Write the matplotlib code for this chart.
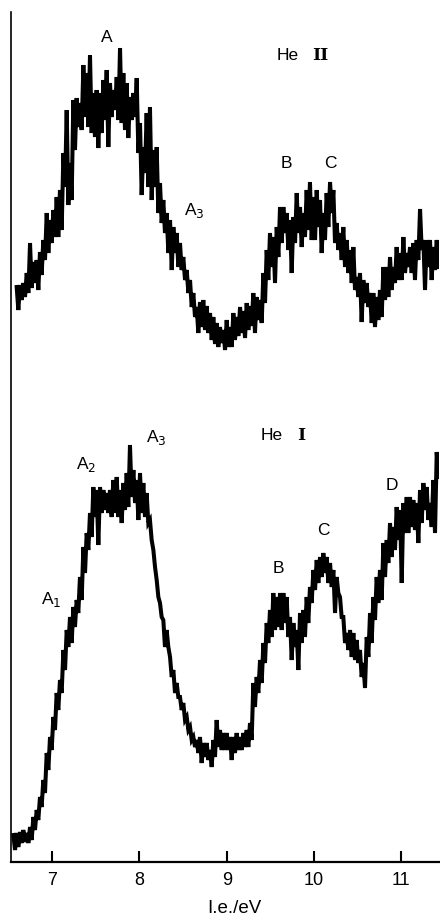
import numpy as np
import matplotlib
matplotlib.use("Agg")
import matplotlib.pyplot as plt

plt.rcParams['font.family'] = ['Liberation Sans', 'DejaVu Sans']

# ionisation energy (eV) at which the traces were read
ie = [6.555, 6.593, 6.631, 6.669, 6.708, 6.746, 6.784, 6.822, 6.860, 6.898, 6.937,
      6.975, 7.013, 7.051, 7.089, 7.128, 7.166, 7.204, 7.242, 7.280, 7.318,
      7.357, 7.395, 7.433, 7.471, 7.509, 7.548, 7.586, 7.624, 7.662, 7.700,
      7.739, 7.777, 7.815, 7.853, 7.891, 7.930, 7.968, 8.006, 8.044, 8.082,
      8.120, 8.159, 8.197, 8.235, 8.273, 8.311, 8.350, 8.388, 8.426, 8.464,
      8.502, 8.541, 8.579, 8.617, 8.655, 8.693, 8.731, 8.770, 8.808, 8.846,
      8.884, 8.922, 8.961, 8.999, 9.037, 9.075, 9.113, 9.152, 9.190, 9.228,
      9.266, 9.304, 9.342, 9.381, 9.419, 9.457, 9.495, 9.533, 9.572, 9.610,
      9.648, 9.686, 9.724, 9.763, 9.801, 9.839, 9.877, 9.915, 9.953, 9.992,
      10.030, 10.068, 10.106, 10.144, 10.183, 10.221, 10.259, 10.297, 10.335, 10.374,
      10.412, 10.450, 10.488, 10.526, 10.564, 10.603, 10.641, 10.679, 10.717, 10.755,
      10.794, 10.832, 10.870, 10.908, 10.946, 10.985, 11.023, 11.061, 11.099, 11.137,
      11.175, 11.214, 11.252, 11.290, 11.328, 11.366, 11.405]

# He II trace (upper), noise band top / bottom, arbitrary units
he2_hi = [np.nan,
          575, 577, 579, 589, 619, 600, 602, 610, 622, 649,
          642, 652, 665, 672, 709, 752, 699, 762, 764, 759,
          797, 789, 807, 769, 772, 769, 782, 792, 779, 772,
          785, 814, 789, 779, 765, 769, 784, 739, 715, 749,
          755, 712, 715, 679, 662, 649, 642, 635, 629, 619,
          605, 592, 582, 569, 555, 560, 562, 556, 549, 545,
          539, 535, 532, 542, 535, 549, 545, 555, 551, 559,
          556, 569, 565, 562, 589, 612, 629, 625, 635, 655,
          655, 649, 642, 645, 669, 655, 649, 672, 680, 665,
          672, 662, 649, 669, 680, 672, 639, 629, 635, 622,
          612, 615, 585, 589, 582, 579, 569, 569, 565, 572,
          595, 595, 605, 595, 615, 609, 625, 609, 615, 619,
          622, 653, 622, 622, 622, 615, 622]
he2_lo = [np.nan,
          552, 562, 565, 569, 574, 579, 572, 587, 602, 609,
          619, 625, 625, 632, 675, 657, 662, 712, 735, 732,
          745, 735, 729, 725, 714, 729, 742, 715, 745, 752,
          742, 739, 732, 724, 742, 745, 709, 667, 689, 675,
          662, 675, 649, 639, 629, 609, 592, 609, 595, 592,
          582, 569, 555, 545, 529, 535, 532, 529, 522, 518,
          515, 519, 512, 515, 515, 522, 526, 529, 524, 532,
          536, 529, 542, 539, 559, 582, 595, 579, 605, 619,
          629, 612, 589, 619, 629, 615, 625, 632, 622, 622,
          635, 609, 622, 635, 649, 619, 612, 602, 595, 589,
          579, 572, 565, 540, 559, 555, 539, 535, 542, 545,
          562, 565, 572, 579, 582, 582, 589, 595, 589, 582,
          602, 612, 572, 595, 582, 592, 595]

# He I trace (lower)
he1_hi = [27,
          29, 30, 32, 29, 35, 45, 52, 65, 82, 109,
          125, 145, 169, 182, 212, 232, 245, 255, 262, 285,
          315, 329, 349, 375, 372, 375, 372, 369, 372, 382,
          385, 372, 379, 389, 417, 392, 382, 389, 379, 369,
          342, 312, 282, 259, 242, 232, 205, 192, 179, 165,
          159, 145, 135, 125, 122, 125, 119, 119, 112, 122,
          142, 132, 129, 129, 125, 125, 129, 125, 129, 132,
          139, 179, 185, 202, 219, 239, 252, 269, 265, 269,
          269, 265, 245, 239, 232, 249, 252, 265, 275, 292,
          302, 305, 309, 305, 299, 292, 285, 265, 245, 229,
          232, 229, 222, 212, 199, 225, 249, 265, 285, 292,
          319, 322, 339, 335, 355, 352, 359, 365, 365, 362,
          359, 372, 379, 375, 359, 382, 410]
he1_lo = [12,
          15, 19, 20, 19, 22, 32, 42, 55, 69, 92,
          112, 132, 152, 169, 192, 215, 219, 235, 249, 262,
          289, 312, 325, 345, 317, 349, 352, 349, 345, 349,
          345, 339, 352, 355, 365, 359, 342, 349, 345, 339,
          322, 295, 265, 245, 215, 215, 185, 169, 165, 152,
          142, 132, 122, 115, 109, 99, 105, 102, 95, 105,
          115, 112, 112, 112, 102, 109, 112, 112, 115, 115,
          122, 155, 169, 179, 199, 219, 225, 232, 235, 232,
          239, 225, 202, 215, 192, 219, 225, 239, 259, 272,
          279, 285, 289, 279, 275, 249, 269, 245, 219, 212,
          205, 202, 199, 185, 174, 205, 219, 242, 259, 262,
          285, 299, 305, 312, 322, 279, 329, 329, 335, 332,
          319, 339, 352, 342, 335, 329, 385]

ticks = [7, 8, 9, 10, 11]

# band labels: (text, ie, y)
labels_he2 = [("A", 7.628, 825), ("B", 9.678, 699), ("C", 10.182, 699),
              ("A$_3$", 8.625, 652)]
labels_he1 = [("A$_1$", 6.985, 263), ("A$_2$", 7.385, 398), ("A$_3$", 8.190, 425),
              ("B", 9.587, 294), ("C", 10.102, 332), ("D", 10.893, 377)]


def zigzag(x, hi, lo):
    # noisy recorder trace: go top -> bottom of the band at every reading
    x = np.asarray(x, dtype=float)
    step = np.diff(x, append=2 * x[-1] - x[-2])
    xs = np.column_stack([x, x + step / 2]).ravel()
    ys = np.column_stack([hi, lo]).ravel()
    return xs, ys


fig = plt.figure(figsize=(4.4, 9.18), dpi=100)
ax = fig.add_axes([0.025, 0.061, 0.9727, 0.9259])

for hi, lo in [(he2_hi, he2_lo), (he1_hi, he1_lo)]:
    xs, ys = zigzag(ie, hi, lo)
    ax.plot(xs, ys, color='black', lw=2.9, solid_joinstyle='miter')

for txt, x, y in labels_he2 + labels_he1:
    ax.text(x, y, txt, fontsize=12.5, ha='center', va='center')

ax.text(9.695, 807, "He", fontsize=12.5, ha='center', va='center')
ax.text(10.073, 807, "II", fontsize=12.5, ha='center', va='center',
        family='DejaVu Serif', fontweight='bold')
ax.text(9.512, 427, "He", fontsize=12.5, ha='center', va='center')
ax.text(9.850, 427, "I", fontsize=12.5, ha='center', va='center',
        family='DejaVu Serif', fontweight='bold')

ax.set_xlim(6.528, 11.431)
ax.set_ylim(0, 850)
ax.set_xticks(ticks)
ax.set_xticklabels([str(t) for t in ticks], fontsize=13)
ax.set_yticks([])
ax.tick_params(axis='x', direction='in', length=8, width=1.5, pad=7)
for s in ['top', 'right']:
    ax.spines[s].set_visible(False)
ax.spines['bottom'].set_linewidth(1.6)
ax.spines['left'].set_linewidth(1.2)

ax.set_xlabel("I.e./eV", fontsize=13.5)
ax.xaxis.set_label_coords(0.523, -0.045)

fig.savefig("out.png", dpi=100)
